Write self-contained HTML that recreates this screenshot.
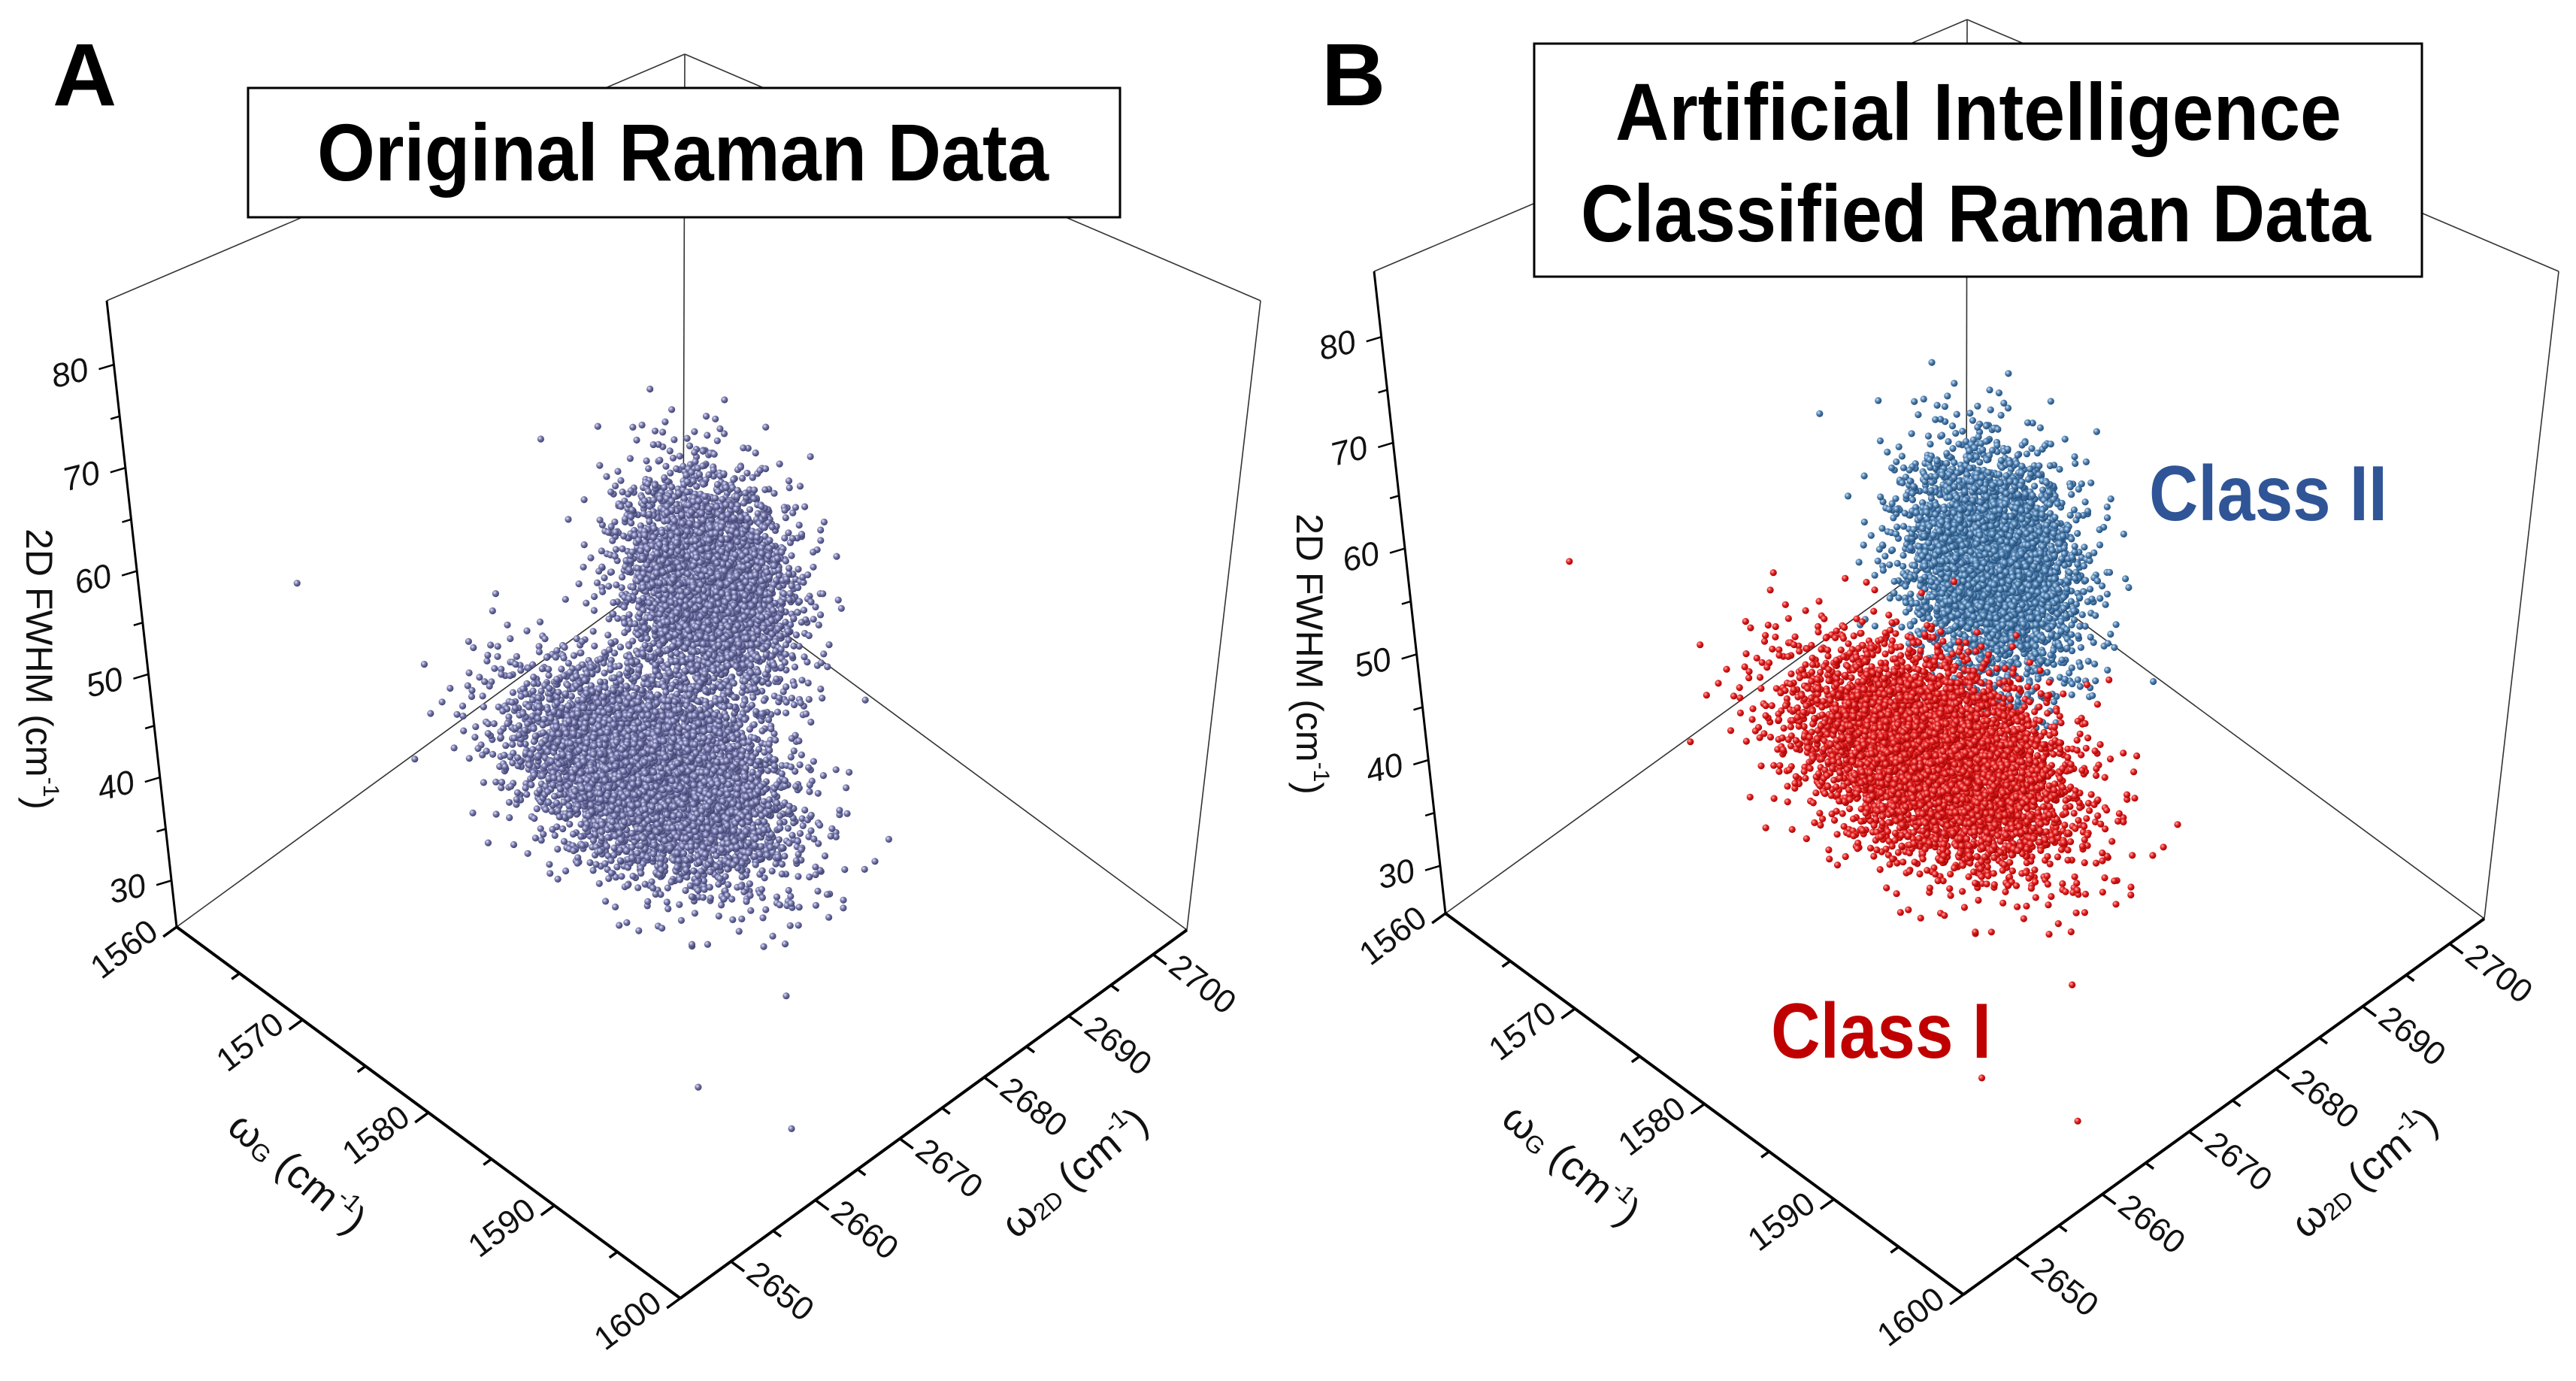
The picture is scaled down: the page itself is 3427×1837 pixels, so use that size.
<!DOCTYPE html>
<html><head><meta charset="utf-8"><style>
html,body{margin:0;padding:0;background:#fff;}
svg{display:block;font-family:"Liberation Sans",Arial,sans-serif;}
</style></head><body>
<svg id="fig" width="3427" height="1837" viewBox="0 0 3427 1837" xmlns="http://www.w3.org/2000/svg">
<defs>
<radialGradient id="gA" cx="35%" cy="35%" r="70%"><stop offset="0" stop-color="#e4e6ff"/><stop offset="0.45" stop-color="#7476a8"/><stop offset="1" stop-color="#3a3c68"/></radialGradient>
<radialGradient id="gBlue" cx="35%" cy="35%" r="70%"><stop offset="0" stop-color="#d2e6f8"/><stop offset="0.45" stop-color="#4f80b0"/><stop offset="1" stop-color="#1d4670"/></radialGradient>
<radialGradient id="gRed" cx="35%" cy="35%" r="70%"><stop offset="0" stop-color="#ffb4b4"/><stop offset="0.45" stop-color="#e42020"/><stop offset="1" stop-color="#9c0000"/></radialGradient>
</defs>
<rect x="0" y="0" width="3427" height="1837" fill="#fff"/>
<g id="panelA"></g>
<g id="panelB"></g>
</svg>
<script>
// ---- data (cluster summaries) ----
const clusterNames = ['class-i', 'class-ii'];
const clusterG = [1578.5, 1579.9];      // omega_G centre (cm-1)
const cluster2D = [2672.7, 2677.0];     // omega_2D centre (cm-1)
const clusterZ = [39.8, 57];            // 2D FWHM centre (cm-1)
const sdG = [4.3, 2.6];
const sd2D = [3.8, 2.4];
const sdZ = [2.8, 5.0];
const clusterCounts = [5200, 3600];
const outlierG = [1560.5, 1596, 1598];
const outlier2D = [2660, 2652, 2660];
const outlierZ = [51, 36, 30];
const outlierClass = [0, 0, 0];
const gTicks = [1560, 1570, 1580, 1590, 1600];
const dTicks = [2650, 2660, 2670, 2680, 2690, 2700];
const zTicks = [30, 40, 50, 60, 70, 80];

const NS = 'http://www.w3.org/2000/svg';
const G0 = 1560, G1 = 1600, D0 = 2644, D1 = 2704;

const panels = [
  {id:'panelA', key:'a',
   floor:{L:[235,1233],F:[905,1727],R:[1579,1237],B:[909,743]},
   top:{L:[142,400],F:[908,728],R:[1677,400],B:[911,72]}, z0:25.5, z1:86.2,
   box:[330,117,1160,172], letter:'A', letterPos:[70,140],
   titles:[['Original Raman Data',422,240,973]],
   ztitle:[48,890], gtitle:[393,1563], dtitle:[1432,1563]},
  {id:'panelB', key:'b',
   floor:{L:[1923,1215],F:[2612,1722],R:[3305,1222],B:[2616,715]},
   top:{L:[1828,361],F:[2615,696],R:[3404,361],B:[2617,26]}, z0:25.5, z1:86.2,
   box:[2041,58,1181,310], letter:'B', letterPos:[1758,140],
   titles:[['Artificial Intelligence',2149,186,966],['Classified Raman Data',2103,321,1051]],
   ztitle:[1738,870], gtitle:[2088,1552], dtitle:[3148,1563]}
];

function bil(q, g, d){
  const w = [(1-g)*(1-d), g*(1-d), g*d, (1-g)*d];
  return [q.L[0]*w[0]+q.F[0]*w[1]+q.R[0]*w[2]+q.B[0]*w[3],
          q.L[1]*w[0]+q.F[1]*w[1]+q.R[1]*w[2]+q.B[1]*w[3]];
}
function proj(P, G, D, Z){
  const g = (G-G0)/(G1-G0), d = (D-D0)/(D1-D0), t = (Z-P.z0)/(P.z1-P.z0);
  const f = bil(P.floor, g, d), u = bil(P.top, g, d);
  return [f[0]+(u[0]-f[0])*t, f[1]+(u[1]-f[1])*t];
}
function el(tag, attrs, parent){
  const e = document.createElementNS(NS, tag);
  for (const k in attrs) e.setAttribute(k, attrs[k]);
  parent.appendChild(e);
  return e;
}
function halton(i, b){ let f=1, r=0; while(i>0){ f/=b; r+=f*(i%b); i=Math.floor(i/b);} return r; }
function norm(a){ const l=Math.hypot(a[0],a[1]); return [a[0]/l,a[1]/l]; }

function drawPanel(P){
  const g = document.getElementById(P.id);
  const f = P.floor, tp = P.top;
  const thin = {stroke:'#333', 'stroke-width':1.6, fill:'none'};
  const edges = [[f.L,f.B],[f.B,f.R],[f.B,tp.B],[tp.L,tp.B],[tp.B,tp.R],[f.R,tp.R]];
  edges.forEach((e,i)=>{
    const ln = el('line', Object.assign({x1:e[0][0],y1:e[0][1],x2:e[1][0],y2:e[1][1]}, thin), g);
    
    
  });
  const axes = [[f.L,f.F,'g-axis-line'],[f.F,f.R,'d-axis-line'],[f.L,tp.L,'z-axis-line']];
  axes.forEach(a=>{
    const ln = el('line',{x1:a[0][0],y1:a[0][1],x2:a[1][0],y2:a[1][1],stroke:'#000','stroke-width':a[2]==='z-axis-line'?3:4}, g);
    
    
  });
  const gDir = norm([f.F[0]-f.R[0], f.F[1]-f.R[1]]);
  const dDir = norm([f.F[0]-f.L[0], f.F[1]-f.L[1]]);
  for (let v=G0; v<=G1; v+=5){
    const p = proj(P, v, D0, P.z0);
    const len = v%10===0 ? 22 : 13;
    const tk = el('line',{x1:p[0],y1:p[1],x2:p[0]+gDir[0]*len,y2:p[1]+gDir[1]*len,stroke:'#000','stroke-width':3.5}, g);
    
    
  }
  gTicks.forEach(v=>{
    const p = proj(P, v, D0, P.z0);
    const x = p[0]-68, y = p[1]+32;
    const t = el('text',{x:x,y:y,'font-size':44,'text-anchor':'middle','dominant-baseline':'middle',fill:'#111',transform:`rotate(-37 ${x} ${y})`}, g);
    t.textContent = v;
    
    
  });
  for (let v=2650; v<=2700; v+=5){
    const p = proj(P, G1, v, P.z0);
    const len = v%10===0 ? 22 : 13;
    const tk = el('line',{x1:p[0],y1:p[1],x2:p[0]+dDir[0]*len,y2:p[1]+dDir[1]*len,stroke:'#000','stroke-width':3.5}, g);
    
    
  }
  dTicks.forEach(v=>{
    const p = proj(P, G1, v, P.z0);
    const x = p[0]+64, y = p[1]+42;
    const t = el('text',{x:x,y:y,'font-size':44,'text-anchor':'middle','dominant-baseline':'middle',fill:'#111',transform:`rotate(38 ${x} ${y})`}, g);
    t.textContent = v;
    
    
  });
  for (let v=30; v<=80; v+=5){
    const p = proj(P, G0, D0, v);
    const len = v%10===0 ? 20 : 12;
    const tk = el('line',{x1:p[0],y1:p[1],x2:p[0]-len,y2:p[1]+len*0.3,stroke:'#000','stroke-width':2.5}, g);
    
    
  }
  zTicks.forEach(v=>{
    const p = proj(P, G0, D0, v);
    const x = p[0]-58, y = p[1]+14;
    const t = el('text',{x:x,y:y,'font-size':44,'font-style':'italic','text-anchor':'middle','dominant-baseline':'middle',fill:'#111',transform:`rotate(-14 ${x} ${y})`}, g);
    t.textContent = v;
    
    
  });
  let t = el('text',{x:P.ztitle[0],y:P.ztitle[1],'font-size':50,'text-anchor':'middle','dominant-baseline':'middle',fill:'#111',transform:`rotate(90 ${P.ztitle[0]} ${P.ztitle[1]})`}, g);
  t.innerHTML = '2D FWHM (cm<tspan font-size="30" dy="-18">-1</tspan><tspan dy="18">)</tspan>';
  
  
  t = el('text',{x:P.gtitle[0],y:P.gtitle[1],'font-size':54,'text-anchor':'middle','dominant-baseline':'middle',fill:'#111',transform:`rotate(40 ${P.gtitle[0]} ${P.gtitle[1]})`}, g);
  t.innerHTML = 'ω<tspan font-size="32" dy="10">G</tspan><tspan dy="-10"> (cm</tspan><tspan font-size="32" dy="-18">-1</tspan><tspan dy="18">)</tspan>';
  
  
  t = el('text',{x:P.dtitle[0],y:P.dtitle[1],'font-size':54,'text-anchor':'middle','dominant-baseline':'middle',fill:'#111',transform:`rotate(-40 ${P.dtitle[0]} ${P.dtitle[1]})`}, g);
  t.innerHTML = 'ω<tspan font-size="32" dy="10">2D</tspan><tspan dy="-10"> (cm</tspan><tspan font-size="32" dy="-18">-1</tspan><tspan dy="18">)</tspan>';
  
  

  const pts = el('g', {}, g);
  
  
  const order = [1, 0];
  order.forEach(c=>{
    const fill = P.key==='a' ? 'url(#gA)' : (c===0 ? 'url(#gRed)' : 'url(#gBlue)');
    const grp = el('g', {fill: fill}, pts);
    
    
    let html = '';
    for (let i=1; i<=clusterCounts[c]; i++){
      const k = i + c*7919;
      const u1 = Math.max(halton(k,2),1e-6), u2 = halton(k,3), u3 = Math.max(halton(k,5),1e-6), u4 = halton(k,7);
      const r1 = Math.sqrt(-2*Math.log(u1)), r2 = Math.sqrt(-2*Math.log(u3));
      const n1 = r1*Math.cos(2*Math.PI*u2), n2 = r1*Math.sin(2*Math.PI*u2), n3 = r2*Math.cos(2*Math.PI*u4);
      const G = clusterG[c] + sdG[c]*n1, D = cluster2D[c] + sd2D[c]*n2, Z = clusterZ[c] + sdZ[c]*n3;
      const p = proj(P, G, D, Z);
      html += `<circle cx="${p[0].toFixed(1)}" cy="${p[1].toFixed(1)}" r="4.6"/>`;
    }
    outlierG.forEach((og,j)=>{
      if (outlierClass[j]!==c) return;
      const p = proj(P, og, outlier2D[j], outlierZ[j]);
      html += `<circle cx="${p[0].toFixed(1)}" cy="${p[1].toFixed(1)}" r="4.6"/>`;
    });
    grp.innerHTML = html;
  });

  const b = P.box;
  const rect = el('rect',{x:b[0],y:b[1],width:b[2],height:b[3],fill:'#fff',stroke:'#000','stroke-width':3}, g);
  
  
  P.titles.forEach(tt=>{
    const tx = el('text',{x:tt[1],y:tt[2],'font-size':108,'font-weight':'bold',fill:'#000',textLength:tt[3],lengthAdjust:'spacingAndGlyphs'}, g);
    tx.textContent = tt[0];
    
    
  });
  const lt = el('text',{x:P.letterPos[0],y:P.letterPos[1],'font-size':118,'font-weight':'bold',fill:'#000'}, g);
  lt.textContent = P.letter;
  
  
}
panels.forEach(drawPanel);

const gb = document.getElementById('panelB');
let c2 = el('text',{x:2859,y:692,'font-size':104,'font-weight':'bold',fill:'#2f5597',textLength:317,lengthAdjust:'spacingAndGlyphs'}, gb);
c2.textContent = 'Class II';


let c1 = el('text',{x:2356,y:1407,'font-size':104,'font-weight':'bold',fill:'#c00000',textLength:293,lengthAdjust:'spacingAndGlyphs'}, gb);
c1.textContent = 'Class I';


</script>
</body></html>
